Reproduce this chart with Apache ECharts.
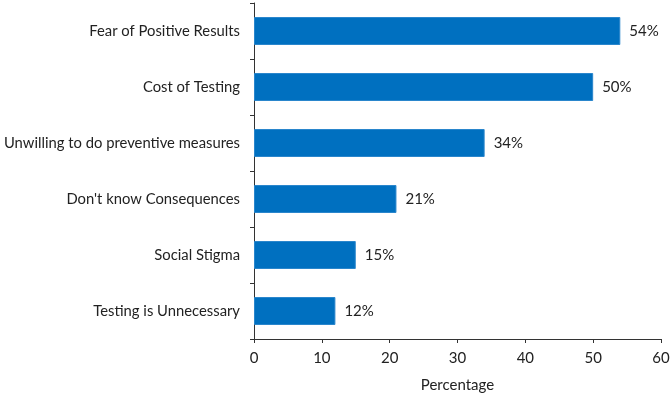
<!DOCTYPE html>
<html><head><meta charset="utf-8">
<script src="https://cdn.jsdelivr.net/npm/echarts@6/dist/echarts.min.js"></script>
<style>html,body{margin:0;padding:0;background:#fff}#c{width:671px;height:395px}</style>
</head><body><div id="c"></div>
<script>
const categories = ["Fear of Positive Results","Cost of Testing","Unwilling to do preventive measures","Don't know Consequences","Social Stigma","Testing is Unnecessary"];
const values = [54, 50, 34, 21, 15, 12];
const xTicks = [0, 10, 20, 30, 40, 50, 60];
const xTitle = "Percentage";

const chart = echarts.init(document.getElementById('c'));
const font = 'Lato';
chart.setOption({
  animation: false,
  grid: {left: 254, right: 10, top: 3, bottom: 56, containLabel: false, outerBoundsMode: 'none'},
  xAxis: {
    type: 'value', min: xTicks[0], max: xTicks[xTicks.length-1], interval: 10,
    name: xTitle, nameLocation: 'middle', nameGap: 39,
    nameTextStyle: {fontFamily: font, fontSize: 15, color: '#222'},
    axisLine: {show: true, lineStyle: {color: '#333', width: 1}},
    axisTick: {show: true, length: 4, lineStyle: {color: '#333'}},
    axisLabel: {fontFamily: font, fontSize: 15, color: '#222', margin: 12},
    splitLine: {show: false}
  },
  yAxis: {
    type: 'category', data: categories.slice().reverse(),
    axisLine: {show: true, lineStyle: {color: '#333', width: 1}},
    axisTick: {show: true, length: 4, lineStyle: {color: '#333'}},
    axisLabel: {fontFamily: font, fontSize: 14.8, color: '#222', margin: 14}
  },
  series: [{
    type: 'bar', data: values.slice().reverse(), barCategoryGap: '50%',
    itemStyle: {color: '#0070C0', borderColor: '#2A86CC', borderWidth: 1},
    label: {show: true, position: 'right', distance: 9, formatter: '{c}%', fontFamily: font, fontSize: 15, color: '#222'}
  }]
});
</script></body></html>
